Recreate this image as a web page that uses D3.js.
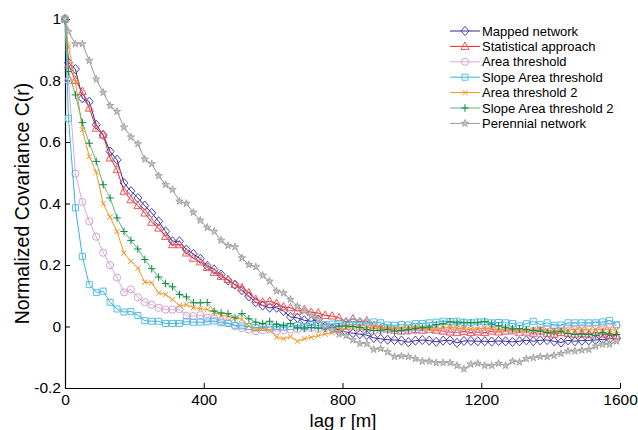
<!DOCTYPE html>
<html>
<head>
<meta charset="utf-8">
<script src="https://cdn.jsdelivr.net/npm/d3@7"></script>
<style>
  html, body { margin: 0; padding: 0; background: #fff; }
  svg { display: block; font-family: "Liberation Sans", Arial, Helvetica, sans-serif; }
</style>
</head>
<body>
<svg id="chart" width="638" height="430"></svg>
<script>
// ---- data ----
const lags = [0].concat(d3.range(10, 1600, 20)); // 0, 10, 30, ..., 1590

const seriesNames = ["Mapped network", "Statistical approach", "Area threshold",
  "Slope Area threshold", "Area threshold 2", "Slope Area threshold 2", "Perennial network"];

const mappedNetwork = [1, 0.858, 0.837, 0.742, 0.731, 0.656, 0.623, 0.569, 0.542, 0.467, 0.44,
  0.418, 0.393, 0.369, 0.342, 0.309, 0.277, 0.277, 0.25, 0.236, 0.22,
  0.197, 0.185, 0.169, 0.15, 0.136, 0.118, 0.098, 0.079, 0.068, 0.061,
  0.061, 0.05, 0.031, 0.028, 0.02, 0.017, 0.023, 0.001, -0.007, -0.01,
  -0.018, -0.022, -0.025, -0.028, -0.037, -0.04, -0.043, -0.044, -0.046, -0.051,
  -0.046, -0.044, -0.046, -0.05, -0.046, -0.045, -0.053, -0.047, -0.047, -0.048,
  -0.048, -0.049, -0.047, -0.048, -0.05, -0.048, -0.045, -0.048, -0.045, -0.044,
  -0.048, -0.052, -0.045, -0.048, -0.046, -0.045, -0.044, -0.042, -0.04, -0.038];

const statisticalApproach = [1, 0.85, 0.80, 0.764, 0.71, 0.645, 0.623, 0.548, 0.51, 0.44, 0.412,
  0.393, 0.369, 0.339, 0.32, 0.293, 0.266, 0.266, 0.239, 0.222, 0.21,
  0.192, 0.176, 0.163, 0.153, 0.136, 0.126, 0.109, 0.088, 0.079, 0.082,
  0.075, 0.064, 0.061, 0.05, 0.055, 0.046, 0.044, 0.036, 0.034, 0.028,
  0.015, 0.025, 0.015, 0.018, 0.003, -0.005, -0.008, -0.012, -0.015, -0.012,
  -0.01, -0.012, -0.01, -0.012, -0.015, -0.018, -0.02, -0.016, -0.02, -0.018,
  -0.02, -0.015, -0.018, -0.015, -0.012, -0.02, -0.018, -0.022, -0.015, -0.022,
  -0.025, -0.02, -0.022, -0.025, -0.022, -0.025, -0.02, -0.025, -0.028, -0.03];

const areaThreshold = [1, 0.80, 0.497, 0.405, 0.342, 0.292, 0.24, 0.2, 0.159, 0.111, 0.121,
  0.095, 0.079, 0.071, 0.061, 0.055, 0.055, 0.056, 0.035, 0.034, 0.037,
  0.029, 0.026, 0.017, 0.013, 0.001, -0.005, -0.01, -0.015, -0.012, -0.01,
  -0.015, -0.012, -0.01, -0.008, -0.005, -0.005, -0.008, -0.005, -0.003, -0.005,
  -0.008, -0.01, -0.012, -0.012, -0.015, -0.012, -0.01, -0.012, -0.015, -0.015,
  -0.012, -0.01, -0.008, -0.01, -0.012, -0.01, -0.008, -0.01, -0.012, -0.015,
  -0.012, -0.01, -0.01, -0.012, -0.015, -0.018, -0.02, -0.015, -0.012, -0.01,
  -0.005, -0.008, -0.003, 0.0, -0.005, 0.0, 0.005, 0.0, 0.008, 0.003];

const slopeAreaThreshold = [1, 0.677, 0.386, 0.228, 0.136, 0.111, 0.115, 0.079, 0.057, 0.047, 0.049,
  0.036, 0.019, 0.017, 0.017, 0.01, 0.01, 0.01, 0.016, 0.014, 0.014,
  0.015, 0.018, 0.012, 0.01, 0.004, 0.002, 0.0, -0.003, -0.003, -0.002,
  0.0, -0.002, 0.0, 0.003, 0.0, 0.005, 0.004, 0.006, 0.008, 0.01,
  0.012, 0.015, 0.012, 0.012, 0.015, 0.012, 0.005, 0.004, 0.006, 0.005,
  0.01, 0.01, 0.012, 0.014, 0.017, 0.016, 0.017, 0.014, 0.012, 0.015,
  0.015, 0.012, 0.013, 0.012, 0.01, 0.002, 0.009, 0.017, 0.006, 0.012,
  0.004, 0.005, 0.012, 0.012, 0.012, 0.012, 0.012, 0.015, 0.02, 0.006];

const areaThreshold2 = [1, 0.91, 0.796, 0.64, 0.553, 0.502, 0.40, 0.356, 0.309, 0.239, 0.212,
  0.19, 0.144, 0.142, 0.109, 0.104, 0.088, 0.068, 0.071, 0.061, 0.058,
  0.055, 0.047, 0.036, 0.034, 0.028, 0.023, 0.001, -0.01, -0.006, -0.012,
  -0.035, -0.04, -0.033, -0.048, -0.04, -0.035, -0.03, -0.025, -0.02, -0.012,
  -0.005, 0.0, -0.003, -0.005, 0.0, -0.003, -0.005, -0.008, -0.005, -0.003,
  0.0, -0.005, -0.008, -0.01, -0.005, -0.003, -0.005, -0.008, -0.01, -0.008,
  -0.005, -0.008, -0.012, -0.01, -0.012, -0.015, -0.012, -0.01, -0.008, -0.012,
  -0.015, -0.01, -0.012, -0.01, -0.008, -0.012, -0.01, -0.008, -0.01, -0.012];

const slopeAreaThreshold2 = [1, 0.829, 0.753, 0.663, 0.596, 0.537, 0.461, 0.418, 0.353, 0.309, 0.28,
  0.252, 0.218, 0.188, 0.161, 0.14, 0.129, 0.104, 0.096, 0.077, 0.077,
  0.078, 0.05, 0.044, 0.042, 0.028, 0.042, 0.025, 0.014, 0.01, 0.017,
  0.006, 0.003, 0.01, -0.004, -0.005, -0.003, -0.005, -0.006, -0.004, 0.001,
  0.001, 0.0, -0.003, -0.01, -0.013, -0.012, -0.01, -0.015, -0.013, -0.01,
  -0.006, -0.004, -0.002, 0.006, 0.009, 0.015, 0.012, 0.012, 0.012, 0.012,
  0.016, 0.008, 0.002, -0.004, -0.008, -0.007, -0.01, -0.013, -0.015, -0.019,
  -0.018, -0.016, -0.023, -0.026, -0.025, -0.026, -0.029, -0.02, -0.024, -0.026];

const perennialNetwork = [1, 0.959, 0.919, 0.919, 0.865, 0.804, 0.761, 0.718, 0.699, 0.648, 0.616,
  0.594, 0.544, 0.529, 0.49, 0.461, 0.445, 0.407, 0.40, 0.371, 0.345,
  0.322, 0.309, 0.28, 0.263, 0.259, 0.223, 0.201, 0.194, 0.166, 0.147,
  0.115, 0.109, 0.088, 0.066, 0.05, 0.036, 0.023, 0.001, -0.01, -0.025,
  -0.03, -0.044, -0.055, -0.056, -0.075, -0.072, -0.083, -0.098, -0.096, -0.098,
  -0.105, -0.113, -0.113, -0.118, -0.118, -0.118, -0.127, -0.138, -0.123, -0.12,
  -0.127, -0.127, -0.12, -0.127, -0.113, -0.116, -0.105, -0.102, -0.098, -0.098,
  -0.094, -0.088, -0.08, -0.08, -0.077, -0.075, -0.064, -0.058, -0.058, -0.048];

const xTicks = [0, 400, 800, 1200, 1600];
const yTicks = [-0.2, 0, 0.2, 0.4, 0.6, 0.8, 1];

// ---- styles ----
const seriesValues = [mappedNetwork, statisticalApproach, areaThreshold, slopeAreaThreshold,
  areaThreshold2, slopeAreaThreshold2, perennialNetwork];
const styles = [
  { line: "#2a2a8c", mark: "#4a44b8", shape: "diamond" },
  { line: "#e8262b", mark: "#f05656", shape: "triangle" },
  { line: "#d9abd9", mark: "#d3a2d3", shape: "circle" },
  { line: "#37b3de", mark: "#55bde6", shape: "square" },
  { line: "#f7931e", mark: "#f7931e", shape: "x" },
  { line: "#5cb883", mark: "#118a3e", shape: "plus" },
  { line: "#9a9a9a", mark: "#9a9a9a", shape: "star" }
];

const svg = d3.select("#chart");
const x = d3.scaleLinear().domain([0, 1600]).range([65, 620]);
const y = d3.scaleLinear().domain([-0.2, 1]).range([388, 19]);

function markerPath(shape) {
  switch (shape) {
    case "diamond": return "M0,-4.6L4,0L0,4.6L-4,0Z";
    case "triangle": return "M0,-4.4L4,3L-4,3Z";
    case "circle": return "M3.6,0A3.6,3.6 0 1,1 -3.6,0A3.6,3.6 0 1,1 3.6,0Z";
    case "square": return "M-3,-3H3V3H-3Z";
    case "x": return "M-2.6,-2.6L2.6,2.6M-2.6,2.6L2.6,-2.6";
    case "plus": return "M-3.8,0H3.8M0,-3.8V3.8";
    case "star": return d3.symbol(d3.symbolStar, 17)();
  }
}

// ---- axes ----
const fmt = d => String(+d.toFixed(1));
const xAxis = d3.axisBottom(x).tickValues(xTicks).tickSizeInner(-5).tickSizeOuter(0).tickPadding(6).tickFormat(d => String(d));
const yAxis = d3.axisLeft(y).tickValues(yTicks).tickSizeInner(-5).tickSizeOuter(0).tickPadding(4).tickFormat(fmt);

const gx = svg.append("g").attr("transform", "translate(0,388)").call(xAxis);
const gy = svg.append("g").attr("transform", "translate(65,0)").call(yAxis);
[gx, gy].forEach(g => {
  g.selectAll("path.domain").attr("stroke", "#000").attr("stroke-width", 1.2);
  g.selectAll(".tick line").attr("stroke", "#000").attr("stroke-width", 1);
  g.selectAll(".tick text").attr("fill", "#000").style("font-size", "15.5px")
    .style("font-family", "'Liberation Sans', Arial, sans-serif");
});

svg.append("text").attr("x", 343).attr("y", 426.5).attr("text-anchor", "middle")
  .style("font-size", "18.5px").text("lag r [m]");
svg.append("text").attr("transform", "translate(29,203.5) rotate(-90)").attr("text-anchor", "middle")
  .style("font-size", "19.5px").text("Normalized Covariance C(r)");

// ---- series ----
const line = d3.line().x((d, i) => x(lags[i])).y(d => y(d));
seriesValues.forEach((vals, s) => {
  const st = styles[s];
  const g = svg.append("g");
  g.append("path").datum(vals).attr("d", line).attr("fill", "none")
    .attr("stroke", st.line).attr("stroke-width", 1);
  const filled = st.shape === "star";
  g.selectAll("path.m").data(vals).enter().append("path").attr("class", "m")
    .attr("transform", (d, i) => `translate(${x(lags[i])},${y(d)})`)
    .attr("d", markerPath(st.shape))
    .attr("fill", filled ? "#c4c4c4" : "none")
    .attr("stroke", st.mark).attr("stroke-width", filled ? 0.8 : 1);
});

// ---- legend ----
const lg = svg.append("g");
seriesNames.forEach((name, k) => {
  const st = styles[k];
  const yy = 31 + k * 15.4;
  lg.append("line").attr("x1", 450).attr("x2", 480).attr("y1", yy).attr("y2", yy)
    .attr("stroke", st.line).attr("stroke-width", 1);
  lg.append("path").attr("transform", `translate(465,${yy})`).attr("d", markerPath(st.shape))
    .attr("fill", st.shape === "star" ? "#c4c4c4" : "none").attr("stroke", st.mark)
    .attr("stroke-width", st.shape === "star" ? 0.8 : 1);
  lg.append("text").attr("x", 482).attr("y", yy).attr("dy", "0.35em")
    .style("font-size", "13px").attr("fill", "#000").text(name);
});
</script>
</body>
</html>
